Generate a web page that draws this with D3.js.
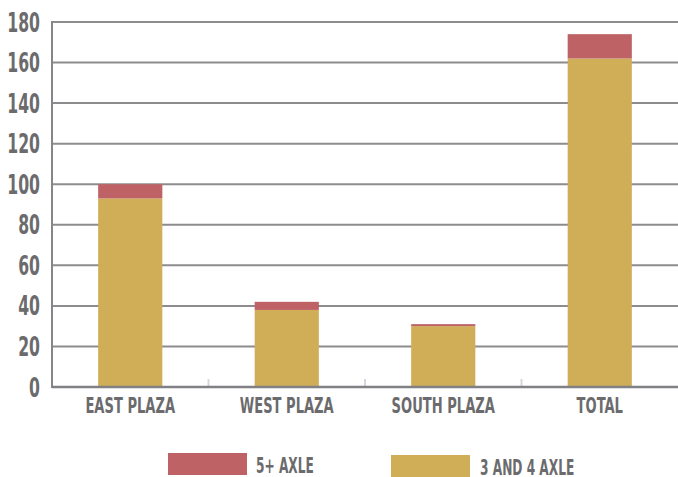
<!DOCTYPE html>
<html>
<head>
<meta charset="utf-8">
<script src="https://cdn.jsdelivr.net/npm/d3@7"></script>
<style>
  html, body { margin: 0; padding: 0; background: #fff; }
  svg { display: block; }
  text { font-family: "DejaVu Sans Condensed", "Liberation Sans Narrow", sans-serif; font-weight: bold; fill: #6b6b6d; }
</style>
</head>
<body>
<svg id="chart" width="678" height="477"></svg>
<script>
// Truck counts by plaza
const categories = ["EAST PLAZA", "WEST PLAZA", "SOUTH PLAZA", "TOTAL"];
const axle34 = [93, 38, 30, 162];
const axle5 = [7, 4, 1, 12];
const yTicks = [0, 20, 40, 60, 80, 100, 120, 140, 160, 180];
const seriesNames = ["5+ AXLE", "3 AND 4 AXLE"];
const seriesColors = ["#be6266", "#cfae57"];

(function () {
  const svg = d3.select("#chart");
  const pl = 52, pr = 678, pt = 22, pb = 387;

  const x = d3.scaleBand().domain(categories).range([pl, pr]).paddingInner(0.59).paddingOuter(0.295);
  const y = d3.scaleLinear().domain([0, 180]).range([pb, pt]);

  // condensed text helper: horizontal squeeze around the anchor point
  function label(g, txt, tx, ty, size, anchor, sx) {
    return g.append("text")
      .attr("transform", `translate(${tx},${ty}) scale(${sx},1)`)
      .attr("text-anchor", anchor)
      .style("font-size", size + "px")
      .text(txt);
  }

  // gridlines
  svg.append("g").selectAll("line").data(yTicks.filter(d => d > 0)).join("line")
    .attr("x1", pl).attr("x2", pr)
    .attr("y1", d => y(d)).attr("y2", d => y(d))
    .attr("stroke", "#8c8c8e").attr("stroke-width", 2);

  // category separators on the baseline
  const step = x.step();
  const seps = categories.slice(1).map(c => x(c) - x.paddingInner() * step / 2);
  svg.append("g").selectAll("line").data(seps).join("line")
    .attr("x1", d => d).attr("x2", d => d)
    .attr("y1", pb - 8).attr("y2", pb)
    .attr("stroke", "#d3d7de").attr("stroke-width", 2);

  // stacked bars
  const rows = categories.map((c, i) => ({ cat: c, a: axle34[i], b: axle5[i] }));
  const stack = d3.stack().keys(["a", "b"])(rows);
  const colorFor = { a: seriesColors[1], b: seriesColors[0] };
  svg.append("g").selectAll("g").data(stack).join("g")
    .attr("fill", d => colorFor[d.key])
    .selectAll("rect").data(d => d).join("rect")
    .attr("x", d => x(d.data.cat))
    .attr("width", x.bandwidth())
    .attr("y", d => y(d[1]))
    .attr("height", d => y(d[0]) - y(d[1]));

  // axis lines
  svg.append("line").attr("x1", pl).attr("x2", pl).attr("y1", pt - 1).attr("y2", pb + 1)
    .attr("stroke", "#86868a").attr("stroke-width", 2);
  svg.append("line").attr("x1", pl).attr("x2", pr).attr("y1", pb).attr("y2", pb)
    .attr("stroke", "#808085").attr("stroke-width", 2.5);

  // y tick labels
  const yl = svg.append("g");
  yTicks.forEach(t => label(yl, t, 40, y(t) + 9.5, 26, "end", 0.67));

  // x category labels
  const xl = svg.append("g");
  categories.forEach(c => label(xl, c, x(c) + x.bandwidth() / 2, 413, 20.5, "middle", 0.71));

  // legend
  const lg = svg.append("g");
  const legendItems = [
    { name: seriesNames[0], color: seriesColors[0], sx: 168, sy: 453, tx: 256, ty: 473 },
    { name: seriesNames[1], color: seriesColors[1], sx: 391, sy: 455, tx: 480, ty: 475 }
  ];
  legendItems.forEach(it => {
    lg.append("rect").attr("x", it.sx).attr("y", it.sy).attr("width", 79).attr("height", 22).attr("fill", it.color);
    label(lg, it.name, it.tx, it.ty, 21.5, "start", 0.63);
  });
})();
</script>
</body>
</html>
